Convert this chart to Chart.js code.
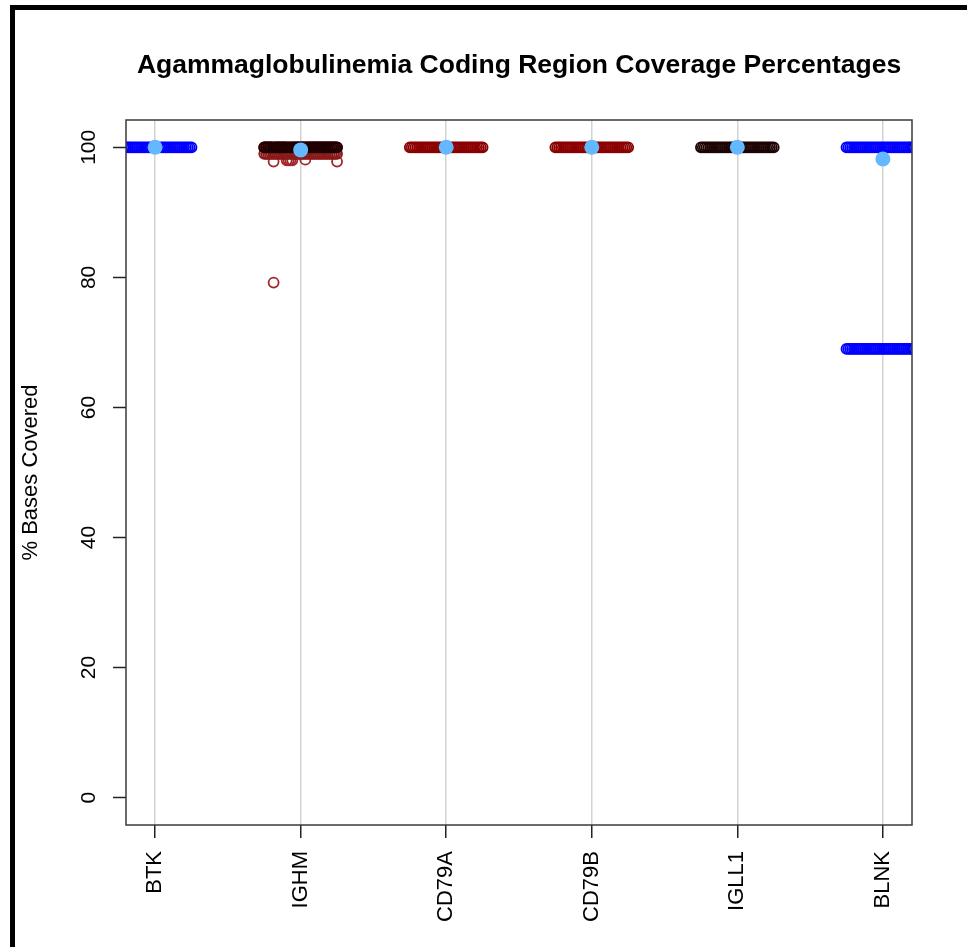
<!DOCTYPE html>
<html>
<head>
<meta charset="utf-8">
<title>Agammaglobulinemia Coding Region Coverage Percentages</title>
<script src="https://cdn.jsdelivr.net/npm/chart.js@4.4.1/dist/chart.umd.min.js"></script>
<style>
  html, body { margin: 0; padding: 0; background: #ffffff; overflow: hidden; }
  #frame {
    position: absolute; left: 10px; top: 5px; width: 1000px; height: 1000px;
    border-left: 5px solid #000; border-top: 5px solid #000;
  }
  #chart { position: absolute; left: 0; top: 0; }
</style>
</head>
<body>
<div id="frame"></div>
<canvas id="chart" width="967" height="947"></canvas>
<script>
// Genes on the x axis
const genes = ['BTK', 'IGHM', 'CD79A', 'CD79B', 'IGLL1', 'BLNK'];

// Y axis tick values
const yTicks = [0, 20, 40, 60, 80, 100];

// Per-sample coverage (% of bases covered), one row per exon group, 40 samples
const btkRows = [
  [100,100,100,100,100,100,100,100,100,100,100,100,100,100,100,100,100,100,100,100,
   100,100,100,100,100,100,100,100,100,100,100,100,100,100,100,100,100,100,100,100]
];
const ighmRows = [
  [100,100,100,100,100,100,100,100,100,100,100,100,100,100,100,100,100,100,100,100,
   100,100,100,100,100,100,100,100,100,100,100,100,100,100,100,100,100,100,100,100],
  [99.0,99.0,99.0,99.0,99.0,99.0,99.0,99.0,99.0,99.0,99.0,99.0,99.0,99.0,99.0,99.0,99.0,99.0,99.0,99.0,
   99.0,99.0,99.0,99.0,99.0,99.0,99.0,99.0,99.0,99.0,99.0,99.0,99.0,99.0,99.0,99.0,99.0,99.0,99.0,99.0],
  [100,100,100,100,100,97.8,100,100,100,100,100,100,98.0,98.0,98.0,98.0,100,100,100,100,
   100,100,98.1,100,100,100,100,100,100,100,100,100,100,100,100,100,100,100,100,97.8],
  [100,100,100,100,100,79.2,100,100,100,100,100,100,100,100,100,100,100,100,100,100,
   100,100,100,100,100,100,100,100,100,100,100,100,100,100,100,100,100,100,100,100]
];
const cd79aRows = [
  [100,100,100,100,100,100,100,100,100,100,100,100,100,100,100,100,100,100,100,100,
   100,100,100,100,100,100,100,100,100,100,100,100,100,100,100,100,100,100,100,100]
];
const cd79bRows = [
  [100,100,100,100,100,100,100,100,100,100,100,100,100,100,100,100,100,100,100,100,
   100,100,100,100,100,100,100,100,100,100,100,100,100,100,100,100,100,100,100,100]
];
const igll1Rows = [
  [100,100,100,100,100,100,100,100,100,100,100,100,100,100,100,100,100,100,100,100,
   100,100,100,100,100,100,100,100,100,100,100,100,100,100,100,100,100,100,100,100]
];
const blnkRows = [
  [100,100,100,100,100,100,100,100,100,100,100,100,100,100,100,100,100,100,100,100,
   100,100,100,100,100,100,100,100,100,100,100,100,100,100,100,100,100,100,100,100],
  [69.0,69.0,69.0,69.0,69.0,69.0,69.0,69.0,69.0,69.0,69.0,69.0,69.0,69.0,69.0,69.0,69.0,69.0,69.0,69.0,
   69.0,69.0,69.0,69.0,69.0,69.0,69.0,69.0,69.0,69.0,69.0,69.0,69.0,69.0,69.0,69.0,69.0,69.0,69.0,69.0]
];

// Mean coverage per gene
const geneMeans = [100, 99.6, 100, 100, 100, 98.2];

const chartTitle = 'Agammaglobulinemia Coding Region Coverage Percentages';
const yAxisTitle = '% Bases Covered';

const FONT = '"Liberation Sans", Arial, Helvetica, sans-serif';

// Ring colours for each gene's rows
const rowColors = [
  ['#0000ff'],
  ['#1e0000', '#8b1a1a', '#a3272a', '#a3272a'],
  ['#8b0000'],
  ['#8b0000'],
  ['#1e0505'],
  ['#0000ff', '#0000ff']
];
const allRows = [btkRows, ighmRows, cd79aRows, cd79bRows, igll1Rows, blnkRows];

// Horizontal strip spread of samples around each gene position
const STRIP_HALF = 0.25;
function stripOffset(i, n) {
  return -STRIP_HALF + (2 * STRIP_HALF) * i / (n - 1);
}

const datasets = [];
allRows.forEach((rows, g) => {
  rows.forEach((vals, r) => {
    datasets.push({
      label: genes[g] + ' ' + (r + 1),
      data: vals.map((v, i) => ({ x: g + 1 + stripOffset(i, vals.length), y: v })),
      showLine: false,
      pointStyle: 'circle',
      pointRadius: 5,
      pointHoverRadius: 5,
      pointBorderWidth: 1.8,
      borderColor: rowColors[g][r],
      backgroundColor: 'rgba(0,0,0,0)',
      clip: 0,
      // first row of each gene sits on top
      order: 10 + r
    });
  });
});
datasets.push({
  label: 'Mean',
  data: geneMeans.map((v, i) => ({ x: i + 1, y: v })),
  showLine: false,
  pointStyle: 'circle',
  pointRadius: 7.5,
  pointHoverRadius: 7.5,
  pointBorderWidth: 0,
  borderColor: '#63b8ff',
  backgroundColor: '#63b8ff',
  clip: 0,
  order: 0
});

// Title, rotated y tick labels and the plot box
const decorations = {
  id: 'decorations',
  afterDraw(chart) {
    const { ctx, chartArea: a, scales } = chart;
    ctx.save();
    // plot box
    ctx.strokeStyle = '#3a3a3a';
    ctx.lineWidth = 1.5;
    ctx.strokeRect(a.left, a.top, a.right - a.left, a.bottom - a.top);
    // title
    ctx.fillStyle = '#000';
    ctx.font = 'bold 26.5px ' + FONT;
    ctx.textAlign = 'center';
    ctx.textBaseline = 'alphabetic';
    ctx.fillText(chartTitle, (a.left + a.right) / 2, 73);
    // y tick labels, parallel to the axis
    ctx.font = '21px ' + FONT;
    const ys = scales.y;
    ys.ticks.forEach(t => {
      const py = ys.getPixelForValue(t.value);
      ctx.save();
      ctx.translate(95, py);
      ctx.rotate(-Math.PI / 2);
      ctx.fillText(String(t.value), 0, 0);
      ctx.restore();
    });
    ctx.restore();
  }
};

new Chart(document.getElementById('chart'), {
  type: 'scatter',
  data: { datasets },
  options: {
    responsive: false,
    devicePixelRatio: 1,
    animation: false,
    events: [],
    layout: { padding: { left: 0, right: 55, top: 120, bottom: 0 } },
    plugins: {
      legend: { display: false },
      title: { display: false },
      tooltip: { enabled: false }
    },
    scales: {
      x: {
        type: 'linear',
        min: 0.8,
        max: 6.2,
        afterBuildTicks(scale) {
          scale.ticks = genes.map((g, i) => ({ value: i + 1 }));
        },
        afterFit(scale) { scale.height = 122; },
        ticks: {
          autoSkip: false,
          minRotation: 90,
          maxRotation: 90,
          padding: 13,
          color: '#000',
          font: { family: FONT, size: 22 },
          callback: (v) => genes[Math.round(v) - 1] || ''
        },
        grid: {
          color: '#d3d3d3',
          lineWidth: 1.5,
          drawOnChartArea: true,
          drawTicks: true,
          tickLength: 13,
          tickColor: '#222',
          tickWidth: 1.5
        },
        border: { display: false }
      },
      y: {
        type: 'linear',
        min: -4.2,
        max: 104.2,
        afterBuildTicks(scale) {
          scale.ticks = yTicks.map(v => ({ value: v }));
        },
        afterFit(scale) { scale.width = 126; },
        ticks: { display: false },
        grid: {
          drawOnChartArea: false,
          drawTicks: true,
          tickLength: 13,
          tickColor: '#222',
          tickWidth: 1.5
        },
        border: { display: false },
        title: {
          display: true,
          text: yAxisTitle,
          color: '#000',
          font: { family: FONT, size: 22 },
          padding: { top: 18, bottom: 0 }
        }
      }
    }
  },
  plugins: [decorations]
});
</script>
</body>
</html>
